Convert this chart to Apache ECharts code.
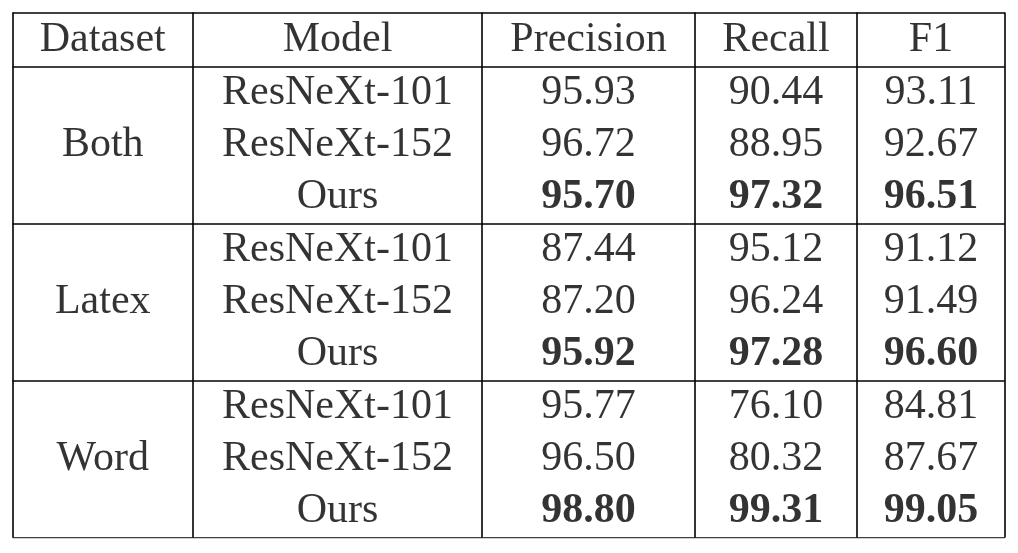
<!DOCTYPE html>
<html>
<head>
<meta charset="utf-8">
<script src="https://cdn.jsdelivr.net/npm/echarts@6/dist/echarts.min.js"></script>
<style>
  html,body{margin:0;padding:0;background:#fff;}
  #main{width:1018px;height:553px;}
</style>
</head>
<body>
<div id="main"></div>
<script>
// table content
var headers = ['Dataset', 'Model', 'Precision', 'Recall', 'F1'];
var datasets = ['Both', 'Latex', 'Word'];
var models = ['ResNeXt-101', 'ResNeXt-152', 'Ours'];
var precision = [95.93, 96.72, 95.70, 87.44, 87.20, 95.92, 95.77, 96.50, 98.80];
var recall = [90.44, 88.95, 97.32, 95.12, 96.24, 97.28, 76.10, 80.32, 99.31];
var f1 = [93.11, 92.67, 96.51, 91.12, 91.49, 96.60, 84.81, 87.67, 99.05];

// layout (axis units = pixels inside the grid)
var colEdges = [0, 180.5, 469.5, 682.5, 844.5, 992.5];
var headH = 54;
var rowH = 52.33;
var totalH = headH + rowH * 9;

function colCenter(c) { return (colEdges[c] + colEdges[c + 1]) / 2; }
function rowCenter(r) { return headH + rowH * (r + 0.5); }

var textNormal = [];
var textBold = [];
for (var h = 0; h < headers.length; h++) {
    textNormal.push([colCenter(h), headH / 2, headers[h]]);
}
for (var g = 0; g < datasets.length; g++) {
    textNormal.push([colCenter(0), rowCenter(g * 3 + 1), datasets[g]]);
    for (var m = 0; m < models.length; m++) {
        var r = g * 3 + m;
        var target = (models[m] === 'Ours') ? textBold : textNormal;
        textNormal.push([colCenter(1), rowCenter(r), models[m]]);
        target.push([colCenter(2), rowCenter(r), precision[r].toFixed(2)]);
        target.push([colCenter(3), rowCenter(r), recall[r].toFixed(2)]);
        target.push([colCenter(4), rowCenter(r), f1[r].toFixed(2)]);
    }
}

// rules of the table
var rules = [];
var hLines = [0, headH, headH + rowH * 3, headH + rowH * 6, totalH];
for (var i = 0; i < hLines.length; i++) {
    rules.push({coords: [[colEdges[0], hLines[i]], [colEdges[colEdges.length - 1], hLines[i]]]});
}
for (var j = 0; j < colEdges.length; j++) {
    rules.push({coords: [[colEdges[j], 0], [colEdges[j], totalH]]});
}

var labelBase = {
    show: true,
    position: 'inside',
    fontFamily: '"Liberation Serif", "DejaVu Serif", serif',
    fontSize: 42,
    color: '#000',
    formatter: function (p) { return p.value[2]; }
};

var myChart = echarts.init(document.getElementById('main'));
var option = {
    backgroundColor: '#fff',
    animation: false,
    grid: {left: 12.5, top: 12.5, width: 992.5, height: totalH},
    xAxis: {type: 'value', min: 0, max: colEdges[colEdges.length - 1], show: false},
    yAxis: {type: 'value', min: 0, max: totalH, inverse: true, show: false},
    series: [
        {
            type: 'lines',
            coordinateSystem: 'cartesian2d',
            silent: true,
            lineStyle: {color: '#000', width: 1.6, opacity: 1},
            data: rules
        },
        {
            type: 'scatter',
            symbolSize: 0,
            silent: true,
            label: labelBase,
            data: textNormal
        },
        {
            type: 'scatter',
            symbolSize: 0,
            silent: true,
            label: echarts.util.extend(echarts.util.clone(labelBase), {fontWeight: 'bold'}),
            data: textBold
        }
    ]
};
myChart.setOption(option);
</script>
</body>
</html>
